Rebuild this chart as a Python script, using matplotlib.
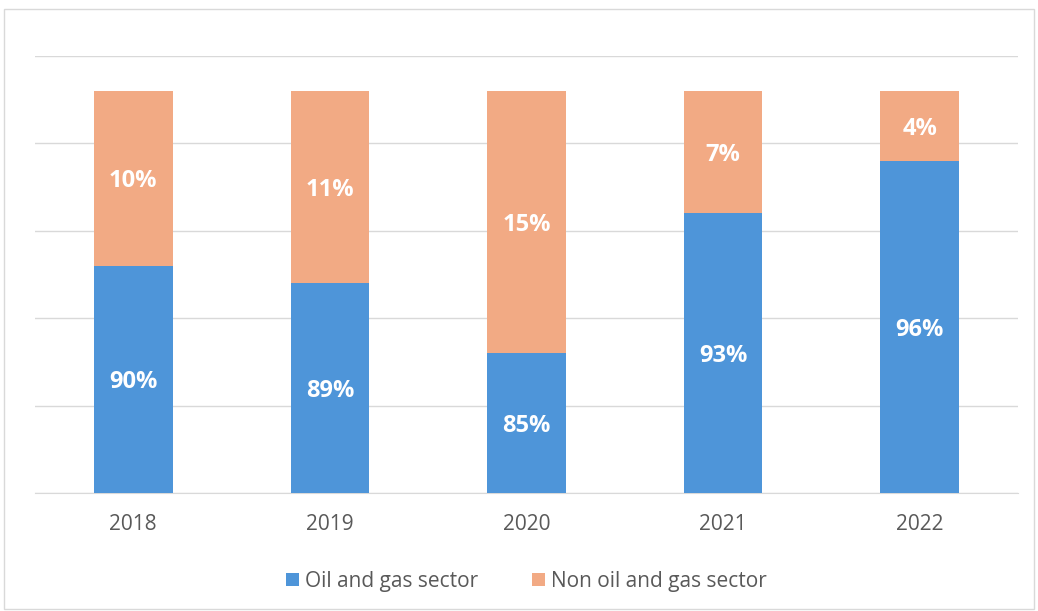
import numpy as np
import matplotlib.pyplot as plt
from matplotlib.patches import Rectangle

years = ['2018', '2019', '2020', '2021', '2022']
oil_gas = [90, 89, 85, 93, 96]
non_oil_gas = [10, 11, 15, 7, 4]

AXIS_MIN = 77
AXIS_MAX = 102
BLUE = '#4E95D9'
ORANGE = '#F2AA84'

plt.rcParams['font.family'] = ['Open Sans', 'DejaVu Sans']

fig = plt.figure(figsize=(10.38, 6.11), dpi=100)
ax = fig.add_axes([35 / 1038, 118 / 611, 983 / 1038, 437 / 611])

x = np.arange(len(years))
ax.bar(x, np.array(oil_gas) - AXIS_MIN, bottom=AXIS_MIN, width=0.4,
       color=BLUE, label='Oil and gas sector', zorder=3)
ax.bar(x, non_oil_gas, bottom=oil_gas, width=0.4,
       color=ORANGE, label='Non oil and gas sector', zorder=3)

# percentage labels centred on the visible part of each segment
for i in range(len(years)):
    ax.text(x[i], (AXIS_MIN + oil_gas[i]) / 2, f'{oil_gas[i]}%', ha='center', va='center_baseline',
            color='white', fontsize=17, fontweight='bold', zorder=4)
    ax.text(x[i], oil_gas[i] + non_oil_gas[i] / 2, f'{non_oil_gas[i]}%', ha='center',
            va='center_baseline', color='white', fontsize=17, fontweight='bold', zorder=4)

ax.set_xlim(-0.5, len(years) - 0.5)
ax.set_ylim(AXIS_MIN, AXIS_MAX)
ax.set_yticks(np.arange(AXIS_MIN, AXIS_MAX + 1, 5))
ax.yaxis.grid(True, color='#D9D9D9', linewidth=1, zorder=0)
ax.tick_params(axis='y', left=False, labelleft=False)
ax.tick_params(axis='x', length=0, pad=15, labelsize=15, labelcolor='#595959')
ax.set_xticks(x)
ax.set_xticklabels(years)
for side in ['top', 'right', 'left']:
    ax.spines[side].set_visible(False)
ax.spines['bottom'].set_color('#D9D9D9')

ax.legend(loc='upper center', bbox_to_anchor=(0.5, -0.135), ncol=2, frameon=False,
          fontsize=15, labelcolor='#595959', handlelength=0.6, handleheight=0.6,
          handletextpad=0.3, columnspacing=2.6)

fig.patches.append(Rectangle((0.004, 0.003), 0.992, 0.982, transform=fig.transFigure,
                             fill=False, edgecolor='#D9D9D9', linewidth=1))

fig.savefig('out.png', dpi=100)
